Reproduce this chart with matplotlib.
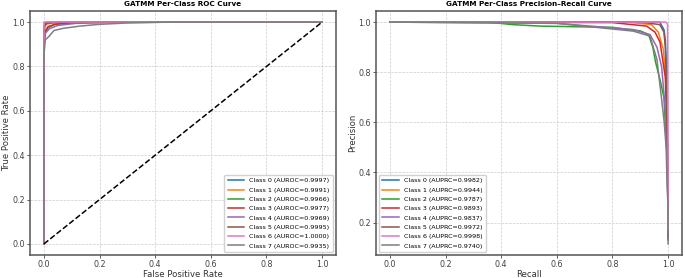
import matplotlib
matplotlib.use("Agg")
import matplotlib.pyplot as plt

class_ids = [0, 1, 2, 3, 4, 5, 6, 7]
auroc = [0.9997, 0.9991, 0.9966, 0.9977, 0.9969, 0.9995, 1.0000, 0.9935]
auprc = [0.9982, 0.9944, 0.9787, 0.9893, 0.9837, 0.9972, 0.9998, 0.9740]

# ROC points per class
roc_fpr = [
    [0, 0, 0.002, 0.005, 0.02, 1],
    [0, 0, 0.004, 0.01, 0.03, 0.06, 1],
    [0, 0, 0.001, 0.005, 0.015, 0.04, 0.1, 0.25, 1],
    [0, 0, 0.005, 0.015, 0.04, 0.1, 0.2, 1],
    [0, 0, 0.005, 0.02, 0.05, 0.12, 0.3, 1],
    [0, 0, 0.003, 0.01, 0.05, 0.65, 1],
    [0, 0, 1],
    [0, 0, 0.005, 0.018, 0.036, 0.07, 0.13, 0.2, 0.3, 0.45, 1],
]
roc_tpr = [
    [0, 0.97, 0.99, 0.997, 1, 1],
    [0, 0.95, 0.98, 0.99, 0.997, 1, 1],
    [0, 0.57, 0.9, 0.95, 0.975, 0.99, 0.997, 1, 1],
    [0, 0.92, 0.96, 0.98, 0.99, 0.997, 1, 1],
    [0, 0.9, 0.95, 0.97, 0.985, 0.995, 1, 1],
    [0, 0.96, 0.985, 0.995, 0.998, 1, 1],
    [0, 1, 1],
    [0, 0.85, 0.92, 0.935, 0.962, 0.972, 0.982, 0.99, 0.996, 1, 1],
]

# precision-recall points per class
pr_recall = [
    [0, 0.9, 0.97, 0.985, 0.99, 0.993, 0.996, 1, 1],
    [0, 0.85, 0.94, 0.965, 0.983, 0.99, 0.995, 1, 1],
    [0, 0.35, 0.44, 0.54, 0.8, 0.875, 0.9, 0.93, 0.945, 0.955, 0.971, 0.985, 0.995, 1, 1],
    [0, 0.8, 0.923, 0.953, 0.971, 0.99, 0.995, 1, 1],
    [0, 0.6, 0.875, 0.935, 0.96, 0.977, 0.99, 0.996, 1, 1],
    [0, 0.9, 0.97, 0.985, 0.99, 0.994, 0.997, 1, 1],
    [0, 0.99, 0.995, 0.998, 1, 1],
    [0, 0.6, 0.875, 0.935, 0.96, 0.977, 0.986, 0.993, 0.996, 1, 1],
]
pr_precision = [
    [1, 1, 1, 0.97, 0.93, 0.85, 0.6, 0.3, 0.14],
    [1, 1, 0.99, 0.96, 0.89, 0.8, 0.7, 0.3, 0.14],
    [1, 1, 0.99, 0.984, 0.979, 0.968, 0.965, 0.95, 0.9, 0.84, 0.77, 0.7, 0.5, 0.25, 0.13],
    [1, 0.998, 0.984, 0.96, 0.92, 0.78, 0.6, 0.3, 0.14],
    [1, 0.995, 0.97, 0.95, 0.9, 0.82, 0.65, 0.45, 0.25, 0.17],
    [1, 1, 0.99, 0.96, 0.9, 0.75, 0.55, 0.3, 0.14],
    [1, 1, 0.998, 0.99, 0.5, 0.17],
    [1, 0.995, 0.964, 0.944, 0.85, 0.69, 0.6, 0.5, 0.37, 0.25, 0.115],
]

fig = plt.figure(figsize=(6.85, 2.78), dpi=100)
ax1 = fig.add_axes([30 / 685, 23 / 278, 306 / 685, 244 / 278])
ax2 = fig.add_axes([376 / 685, 23 / 278, 306 / 685, 244 / 278])

for i, c in enumerate(class_ids):
    ax1.plot(roc_fpr[i], roc_tpr[i], color=f"C{c}", lw=1.1,
             label=f"Class {c} (AUROC={auroc[i]:.4f})")
    ax2.plot(pr_recall[i], pr_precision[i], color=f"C{c}", lw=1.1,
             label=f"Class {c} (AUPRC={auprc[i]:.4f})")
ax1.plot([0, 1], [0, 1], "k--", lw=1.1)

lab = dict(fontsize=6.1, labelpad=0.8, color="#333333")
ax1.set_title("GATMM Per-Class ROC Curve", fontsize=5.2, fontweight="bold", pad=3.5)
ax1.set_xlabel("False Positive Rate", **lab)
ax1.set_ylabel("True Positive Rate", **lab)
ax2.set_title("GATMM Per-Class Precision\u2013Recall Curve", fontsize=5.2, fontweight="bold", pad=3.5)
ax2.set_xlabel("Recall", **lab)
ax2.set_ylabel("Precision", **lab)

for ax, loc in [(ax1, "lower right"), (ax2, "lower left")]:
    ax.grid(True, linestyle="--", color="#cccccc", lw=0.5)
    ax.tick_params(labelsize=5.8, length=2, width=0.6, pad=1.5, colors="#444444")
    for s in ax.spines.values():
        s.set_color("#555555")
        s.set_linewidth(1.1)
    ax.legend(loc=loc, fontsize=4.6, labelspacing=0.6, handlelength=2.6,
              borderpad=0.5, framealpha=0.9, edgecolor="#cccccc", fancybox=True)

fig.savefig("out.png", dpi=100)
